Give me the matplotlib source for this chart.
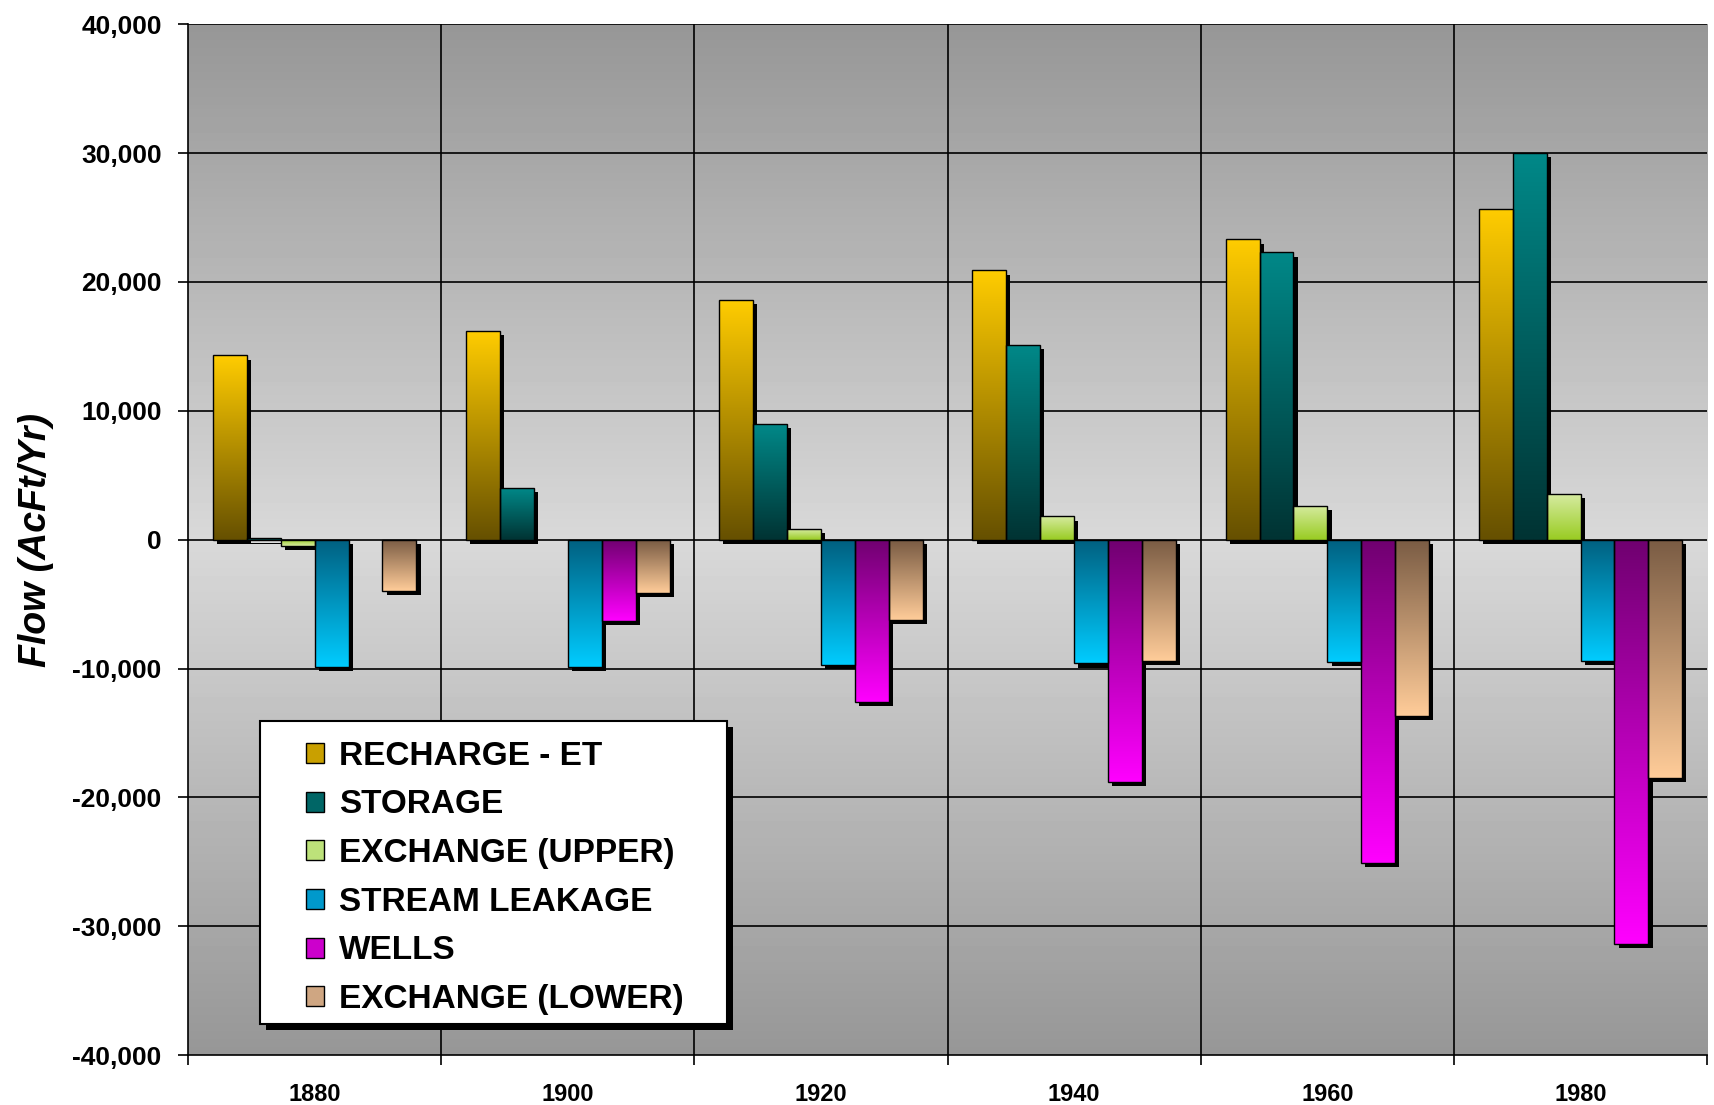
import numpy as np
import matplotlib
matplotlib.use("Agg")
import matplotlib.pyplot as plt
import matplotlib.patheffects as pe
from matplotlib.patches import Rectangle, Patch
from matplotlib.colors import to_rgb
from matplotlib.ticker import FuncFormatter

plt.rcParams['font.family'] = ['Liberation Sans', 'DejaVu Sans']

# ---- data (AcFt/Yr) ----
years = ['1880', '1900', '1920', '1940', '1960', '1980']
series_names = ['RECHARGE - ET', 'STORAGE', 'EXCHANGE (UPPER)',
                'STREAM LEAKAGE', 'WELLS', 'EXCHANGE (LOWER)']
recharge_et = [14300, 16200, 18600, 20900, 23300, 25700]
storage = [100, 4000, 9000, 15100, 22300, 30000]
exchange_upper = [-500, 0, 850, 1800, 2650, 3550]
stream_leakage = [-9900, -9900, -9700, -9600, -9500, -9400]
wells = [0, -6300, -12600, -18800, -25100, -31400]
exchange_lower = [-4000, -4100, -6200, -9400, -13700, -18500]

series_values = [recharge_et, storage, exchange_upper,
                 stream_leakage, wells, exchange_lower]

# (color at zero, color at bar end)
grad_colors = [
    ('#665000', '#ffcc00'),
    ('#003333', '#008888'),
    ('#99cc22', '#d6eba0'),
    ('#006080', '#00ccff'),
    ('#700070', '#ff00ff'),
    ('#7a5c44', '#ffcc99'),
]
legend_colors = ['#c9a000', '#006666', '#bde27a', '#0099cc', '#cc00cc', '#cfa682']


def gradient_bar(ax, rect, c_near, c_far):
    x, w, h = rect.get_x(), rect.get_width(), rect.get_height()
    if h == 0:
        return
    n = 128
    t = np.linspace(0, 1, n)[:, None]
    a, b = np.array(to_rgb(c_near)), np.array(to_rgb(c_far))
    img = (a + (b - a) * t)[:, None, :]
    img = np.repeat(img.reshape(n, 1, 3), 2, axis=1)
    im = ax.imshow(img, extent=[x, x + w, 0, h], origin='lower',
                   aspect='auto', zorder=3.5, interpolation='bilinear')
    im.set_clip_path(rect)


fig = plt.figure(figsize=(17.14, 11.05), dpi=100)
ax = fig.add_axes([0.1097, 0.0452, 0.8863, 0.9328])

# background gradient (dark at top and bottom, light at middle)
yy = np.linspace(-1, 1, 256)[:, None]
shade = 0.85 - 0.26 * np.abs(yy)
bg = np.repeat(shade, 2, axis=1)
ax.imshow(bg, extent=[0, 1, 0, 1], transform=ax.transAxes, cmap='gray',
          vmin=0, vmax=1, aspect='auto', zorder=0, origin='lower')

x = np.arange(len(years))
width = 0.134
shadow = [pe.SimplePatchShadow(offset=(3, -3), shadow_rgbFace='black', alpha=1.0), pe.Normal()]

for i, vals in enumerate(series_values):
    pos = x + (i - 2.5) * width
    bars = ax.bar(pos, vals, width=width, facecolor='none', edgecolor='none',
                  zorder=3)
    for rect in bars:
        if rect.get_height() == 0:
            rect.set_visible(False)
            continue
        rect.set_path_effects(shadow)
        rect.set_facecolor('black')
        gradient_bar(ax, rect, grad_colors[i][0], grad_colors[i][1])
    ax.bar(pos, vals, width=width, facecolor='none',
           edgecolor=['black' if v != 0 else 'none' for v in vals],
           linewidth=1.0, zorder=4)

# grid
for yv in range(-30000, 40001, 10000):
    ax.axhline(yv, color='black', linewidth=1.2, zorder=1)
for xv in x[:-1] + 0.5:
    ax.axvline(xv, color='black', linewidth=1.2, zorder=1)

ax.set_xlim(-0.5, 5.5)
ax.set_ylim(-40000, 40000)
ax.set_yticks(range(-40000, 40001, 10000))
ax.yaxis.set_major_formatter(FuncFormatter(lambda v, p: f'{int(v):,}'))
ax.set_xticks(x)
ax.set_xticklabels(years)
ax.set_xticks(np.arange(-0.5, 5.6, 1.0), minor=True)
ax.tick_params(axis='x', which='major', length=0, pad=20, labelsize=17)
ax.tick_params(axis='x', which='minor', length=7, width=1.2, direction='out')
ax.tick_params(axis='y', length=7, width=1.2, direction='out', labelsize=19, pad=12)
for lab in ax.get_xticklabels() + ax.get_yticklabels():
    lab.set_fontweight('bold')
ax.spines['top'].set_visible(False)
ax.spines['right'].set_visible(False)
ax.spines['left'].set_linewidth(1.2)
ax.spines['bottom'].set_linewidth(1.2)
ax.spines['left'].set_zorder(5)
ax.spines['bottom'].set_zorder(5)

ax.set_ylabel('Flow (AcFt/Yr)', fontsize=27, fontweight='bold',
              fontstyle='italic', labelpad=13)

# legend box with black drop shadow
box = Rectangle((0.0474, 0.030), 0.3075, 0.294, transform=ax.transAxes,
                facecolor='white', edgecolor='black', linewidth=1.5, zorder=6,
                path_effects=[pe.SimplePatchShadow(offset=(4, -4), shadow_rgbFace='black', alpha=1.0),
                              pe.Normal()])
ax.add_patch(box)
handles = [Patch(facecolor=c, edgecolor='black', linewidth=1.0) for c in legend_colors]
leg = ax.legend(handles, series_names, loc='upper left',
                bbox_to_anchor=(0.0775, 0.305), frameon=False,
                prop={'weight': 'bold', 'size': 24}, handlelength=0.55,
                handleheight=0.55, handletextpad=0.45, labelspacing=0.53,
                borderpad=0, borderaxespad=0)
leg.set_zorder(7)

fig.savefig('out.png', dpi=100)
